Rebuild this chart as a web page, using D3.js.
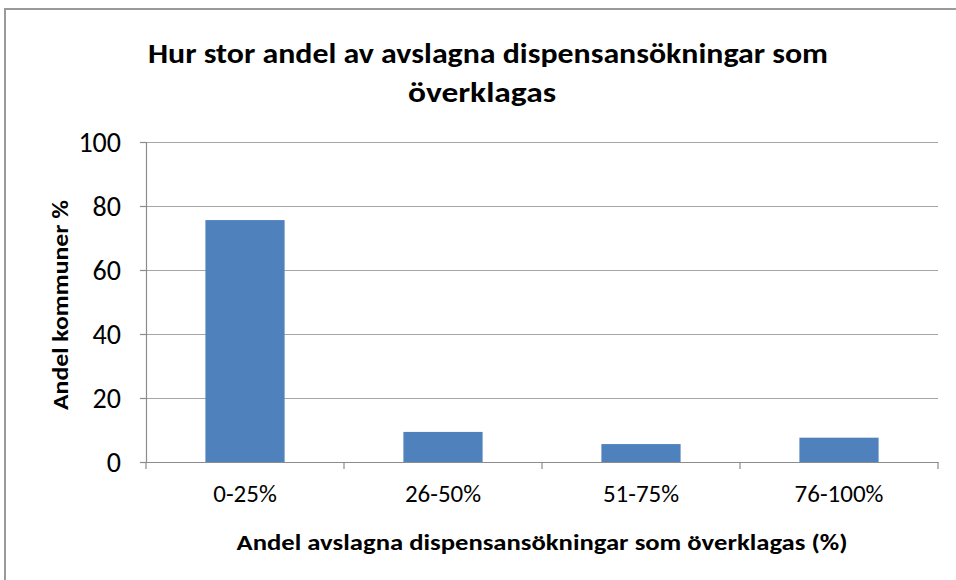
<!DOCTYPE html>
<html>
<head>
<meta charset="utf-8">
<script src="https://cdn.jsdelivr.net/npm/d3@7"></script>
<style>
  body { margin: 0; background: #fff; }
  svg { display: block; }
  text { font-family: Carlito, "Open Sans", "Liberation Sans", sans-serif; fill: #000; }
</style>
</head>
<body>
<script>
// data
var categories = ["0-25%", "26-50%", "51-75%", "76-100%"];
var values = [75.6, 9.4, 5.6, 7.6];
var yTicks = [0, 20, 40, 60, 80, 100];
var titleLines = ["Hur stor andel av avslagna dispensansökningar  som", "överklagas"];
var yTitle = "Andel kommuner %";
var xTitle = "Andel avslagna dispensansökningar  som överklagas (%)";

var canvasWidth = 956, canvasHeight = 580;
var plot = {left: 146, right: 938, top: 142, bottom: 462};

var svg = d3.select("body").append("svg")
    .attr("width", canvasWidth)
    .attr("height", canvasHeight);

// frame of the chart
svg.append("rect")
    .attr("x", 5).attr("y", 9)
    .attr("width", canvasWidth + 20).attr("height", canvasHeight + 20)
    .attr("fill", "#fff")
    .attr("stroke", "#9a9a9a")
    .attr("stroke-width", 2);

var xScale = d3.scaleBand()
    .domain(categories)
    .range([plot.left, plot.right])
    .paddingInner(0.6)
    .paddingOuter(0.3);

var yScale = d3.scaleLinear()
    .domain([0, 100])
    .range([plot.bottom, plot.top]);

// gridlines
svg.append("g").selectAll("line")
    .data(yTicks.filter(function(d) { return d > 0; }))
    .enter().append("line")
    .attr("x1", plot.left).attr("x2", plot.right)
    .attr("y1", function(d) { return yScale(d) + 0.5; })
    .attr("y2", function(d) { return yScale(d) + 0.5; })
    .attr("stroke", "#a6a6a6")
    .attr("stroke-width", 1.2);

// bars
svg.append("g").selectAll("rect")
    .data(values)
    .enter().append("rect")
    .attr("x", function(d, i) { return xScale(categories[i]); })
    .attr("y", function(d) { return yScale(d); })
    .attr("width", xScale.bandwidth())
    .attr("height", function(d) { return plot.bottom - yScale(d); })
    .attr("fill", "#4f81bd");

// y axis
var yAxis = svg.append("g")
    .attr("transform", "translate(" + plot.left + ",0)")
    .call(d3.axisLeft(yScale).tickValues(yTicks).tickSize(6).tickPadding(19));
yAxis.selectAll("path, line").attr("stroke", "#8c8c8c").attr("stroke-width", 1.2);
yAxis.selectAll("text")
    .style("font-size", "28px")
    .attr("dy", "0.35em");

// x axis
var xAxis = svg.append("g")
    .attr("transform", "translate(0," + plot.bottom + ")")
    .call(d3.axisBottom(xScale).tickSize(0).tickPadding(22));
xAxis.selectAll("path").attr("stroke", "#8c8c8c").attr("stroke-width", 1.2);
xAxis.selectAll("text").style("font-size", "25px");

// x tick marks on category boundaries
var bounds = d3.range(categories.length + 1).map(function(i) {
    return plot.left + i * xScale.step();
});
svg.append("g").selectAll("line")
    .data(bounds)
    .enter().append("line")
    .attr("x1", function(d) { return d; }).attr("x2", function(d) { return d; })
    .attr("y1", plot.bottom).attr("y2", plot.bottom + 7)
    .attr("stroke", "#8c8c8c")
    .attr("stroke-width", 1.2);

// title
svg.append("text")
    .attr("x", 488).attr("y", 63)
    .attr("text-anchor", "middle")
    .attr("textLength", 680).attr("lengthAdjust", "spacingAndGlyphs")
    .style("font-size", "29px").style("font-weight", "bold")
    .text(titleLines[0]);
svg.append("text")
    .attr("x", 482).attr("y", 102)
    .attr("text-anchor", "middle")
    .attr("textLength", 148).attr("lengthAdjust", "spacingAndGlyphs")
    .style("font-size", "29px").style("font-weight", "bold")
    .text(titleLines[1]);

// axis titles
svg.append("text")
    .attr("transform", "translate(68,305) rotate(-90)")
    .attr("text-anchor", "middle")
    .attr("textLength", 210).attr("lengthAdjust", "spacingAndGlyphs")
    .style("font-size", "23px").style("font-weight", "bold")
    .text(yTitle);

svg.append("text")
    .attr("x", 542).attr("y", 550)
    .attr("text-anchor", "middle")
    .attr("textLength", 611).attr("lengthAdjust", "spacingAndGlyphs")
    .style("font-size", "23px").style("font-weight", "bold")
    .text(xTitle);
</script>
</body>
</html>
